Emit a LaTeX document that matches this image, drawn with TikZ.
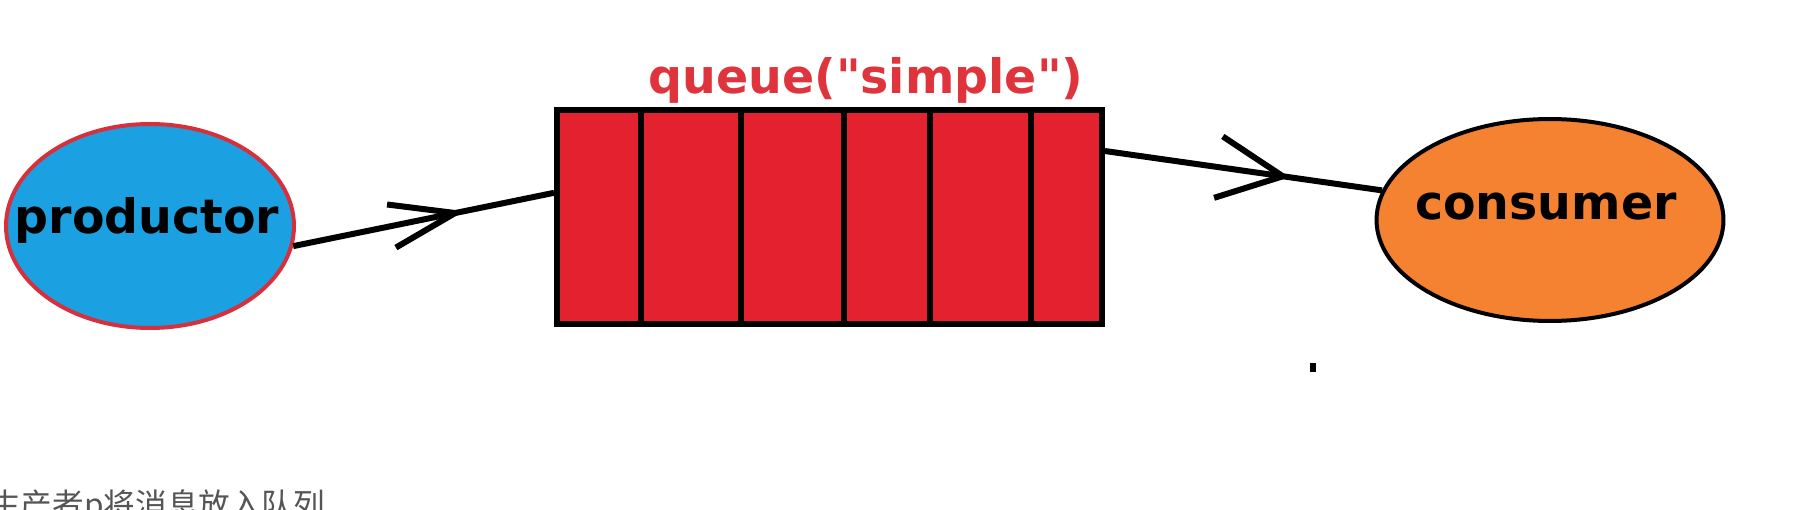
\documentclass[tikz,border=0pt]{standalone}
\usepackage{fontspec}
\newfontfamily\tagfont{DejaVu Sans}
\newfontfamily\cjk{Noto Sans CJK SC}
\usetikzlibrary{arrows.meta,decorations.markings,shapes.geometric,calc}
\definecolor{qred}{RGB}{228,33,46}
\definecolor{qlabel}{RGB}{224,52,60}
\definecolor{pblue}{RGB}{27,160,226}
\definecolor{pborder}{RGB}{214,48,60}
\definecolor{corange}{RGB}{245,130,48}
\definecolor{notegray}{RGB}{85,85,85}

\begin{document}
\begin{tikzpicture}[x=0.02cm, y=-0.02cm,
  blob/.style={draw, ellipse, line width=0.08cm, inner sep=0pt},
  tagtext/.style={font=\tagfont\bfseries\fontsize{27}{30}\selectfont, anchor=base, inner sep=0pt},
  wire/.style={line width=0.12cm},
  midarrow/.style 2 args={postaction={decorate}, decoration={markings,
    mark=at position #1 with {\arrow{Straight Barb[length=1.3cm, width=#2]}}}}]
\useasboundingbox (0,0) rectangle (1810,510);

\node[draw, fill=qred, line width=0.12cm, minimum width=10.9cm, minimum height=4.28cm, inner sep=0pt] (queue) at (829.5,217) {};
\foreach \x in {641,741,844,930,1031}
  \draw[wire] (\x,0 |- queue.north) -- (\x,0 |- queue.south);
\node[tagtext, text=qlabel] (qname) at (866,93.5) {queue("simple")};

\node[blob, draw=pborder, fill=pblue, minimum width=5.76cm, minimum height=4.08cm] (prod) at (150,226) {};
\node[tagtext] (prodname) at (147,234) {productor};
\node[blob, fill=corange, minimum width=6.94cm, minimum height=4.04cm] (cons) at (1550,220) {};
\node[tagtext] (consname) at (1546,219) {consumer};

\draw[wire, midarrow={0.656}{0.88cm}] (prod.-8) -- ($(queue.north west)!0.39!(queue.south west)$);
\draw[wire, midarrow={0.667}{1.24cm}] ($(queue.north east)!0.2!(queue.south east)$) -- (cons.170);

\fill (1310,363) rectangle (1316,372);

\node[font=\cjk\fontsize{18}{20}\selectfont, text=notegray, anchor=base west, inner sep=0pt] (note) at (-11,516) {生产者p将消息放入队列};
\end{tikzpicture}
\end{document}
